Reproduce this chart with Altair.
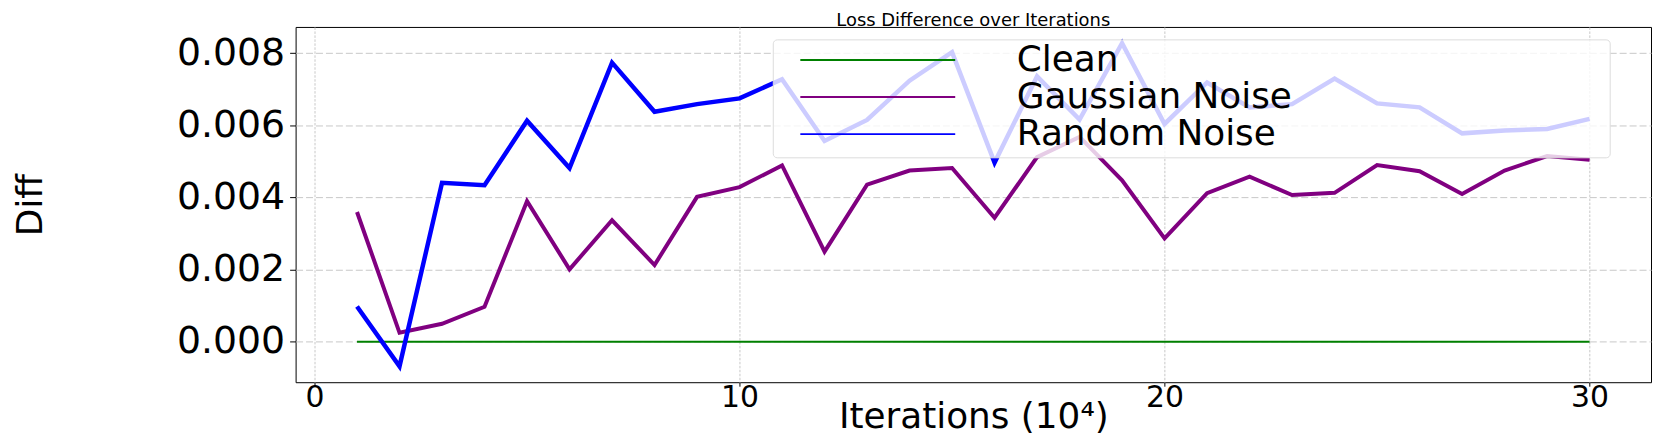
import altair as alt
import pandas as pd

# ---- data ----
iterations = list(range(1, 31))
series_names = ["Clean", "Gaussian Noise", "Random Noise"]
series_colors = ["#008000", "#800080", "#0000ff"]
series_widths = [2.0, 4.0, 4.5]

clean = [0.0, 0.0, 0.0, 0.0, 0.0, 0.0, 0.0, 0.0, 0.0, 0.0,
         0.0, 0.0, 0.0, 0.0, 0.0, 0.0, 0.0, 0.0, 0.0, 0.0,
         0.0, 0.0, 0.0, 0.0, 0.0, 0.0, 0.0, 0.0, 0.0, 0.0]
gaussian = [0.00360, 0.00025, 0.00050, 0.00097, 0.00390, 0.00201, 0.00337, 0.00213, 0.00402, 0.00429,
            0.00489, 0.00250, 0.00436, 0.00475, 0.00482, 0.00344, 0.00512, 0.00568, 0.00448, 0.00287,
            0.00412, 0.00458, 0.00407, 0.00413, 0.00490, 0.00473, 0.00410, 0.00475, 0.00515, 0.00505]
random_noise = [0.00098, -0.00068, 0.00441, 0.00434, 0.00613, 0.00482, 0.00774, 0.00638, 0.00659, 0.00675,
                0.00728, 0.00557, 0.00615, 0.00724, 0.00803, 0.00497, 0.00736, 0.00616, 0.00828, 0.00604,
                0.00719, 0.00650, 0.00659, 0.00730, 0.00661, 0.00650, 0.00578, 0.00586, 0.00590, 0.00618]

x_ticks = [0, 10, 20, 30]
y_ticks = [0.0, 0.002, 0.004, 0.006, 0.008]
title_text = "Loss Difference over Iterations"
x_title = "Iterations (10\u2074)"
y_title = "Diff"

rows = []
for name, vals in zip(series_names, [clean, gaussian, random_noise]):
    for it, v in zip(iterations, vals):
        rows.append({"iter": it, "diff": v, "series": name})
df = pd.DataFrame(rows)

W, H = 1362, 357
FONT = "DejaVu Sans"

x_axis = alt.Axis(
    values=x_ticks, format="d", labelFontSize=30, labelColor="black",
    tickSize=4, tickColor="black", labelPadding=-4, domain=False,
    grid=True, gridColor="#c8c8c8", gridDash=[2.5, 1.5], gridWidth=1,
    title=x_title, titleFontSize=36, titleFontWeight="normal", titleColor="black",
    titleX=W / 2, titleY=46, titleBaseline="alphabetic", titleAlign="center",
)
y_axis = alt.Axis(
    values=y_ticks, format=".3f", labelFontSize=38, labelColor="black",
    tickSize=6, tickColor="black", labelPadding=5, domain=False,
    grid=True, gridColor="#c8c8c8", gridDash=[7, 3], gridWidth=1,
    title=y_title, titleFontSize=36, titleFontWeight="normal", titleColor="black",
    titleAngle=270, titleX=-266, titleY=H / 2, titleBaseline="middle", titleAlign="center",
)
x_enc = alt.X("iter:Q", scale=alt.Scale(domain=[-0.445, 31.445], nice=False, zero=False), axis=x_axis)
y_enc = alt.Y("diff:Q", scale=alt.Scale(domain=[-0.00112, 0.00873], nice=False, zero=False), axis=y_axis)
color_enc = alt.Color(
    "series:N",
    scale=alt.Scale(domain=series_names, range=series_colors),
    sort=series_names,
    legend=alt.Legend(
        orient="none", legendX=567, legendY=15.3, title=None,
        symbolType="M-5,0H5", symbolSize=969, symbolStrokeWidth=2,
        labelFontSize=36, labelColor="black", labelOffset=121.7, labelLimit=0,
        rowPadding=1.2, padding=0,
    ),
)

line_layers = []
for name, w in zip(series_names, series_widths):
    line_layers.append(
        alt.Chart(df)
        .transform_filter(alt.datum.series == name)
        .mark_line(strokeWidth=w)
        .encode(x=x_enc, y=y_enc, color=color_enc)
    )

legend_box = alt.Chart(pd.DataFrame({"k": [0]})).mark_rect(
    fill="white", fillOpacity=0.8, stroke="#dcdcdc", strokeWidth=1, cornerRadius=4
).encode(
    x=alt.value(480), x2=alt.value(1321), y=alt.value(13), y2=alt.value(131.5)
)

title = alt.Chart(pd.DataFrame({"t": [title_text]})).mark_text(
    fontSize=18, baseline="alphabetic", align="center", color="black"
).encode(x=alt.value(W / 2), y=alt.value(-1), text="t:N")

chart = alt.layer(*line_layers, legend_box, title).properties(
    width=W, height=H,
    autosize=alt.AutoSizeParams(type="none"),
    padding={"left": 289, "top": 18, "right": 2, "bottom": 53},
).configure(font=FONT).configure_view(stroke="black", strokeWidth=1)

chart.save("out.html", embed_options={"renderer": "svg", "actions": False})
